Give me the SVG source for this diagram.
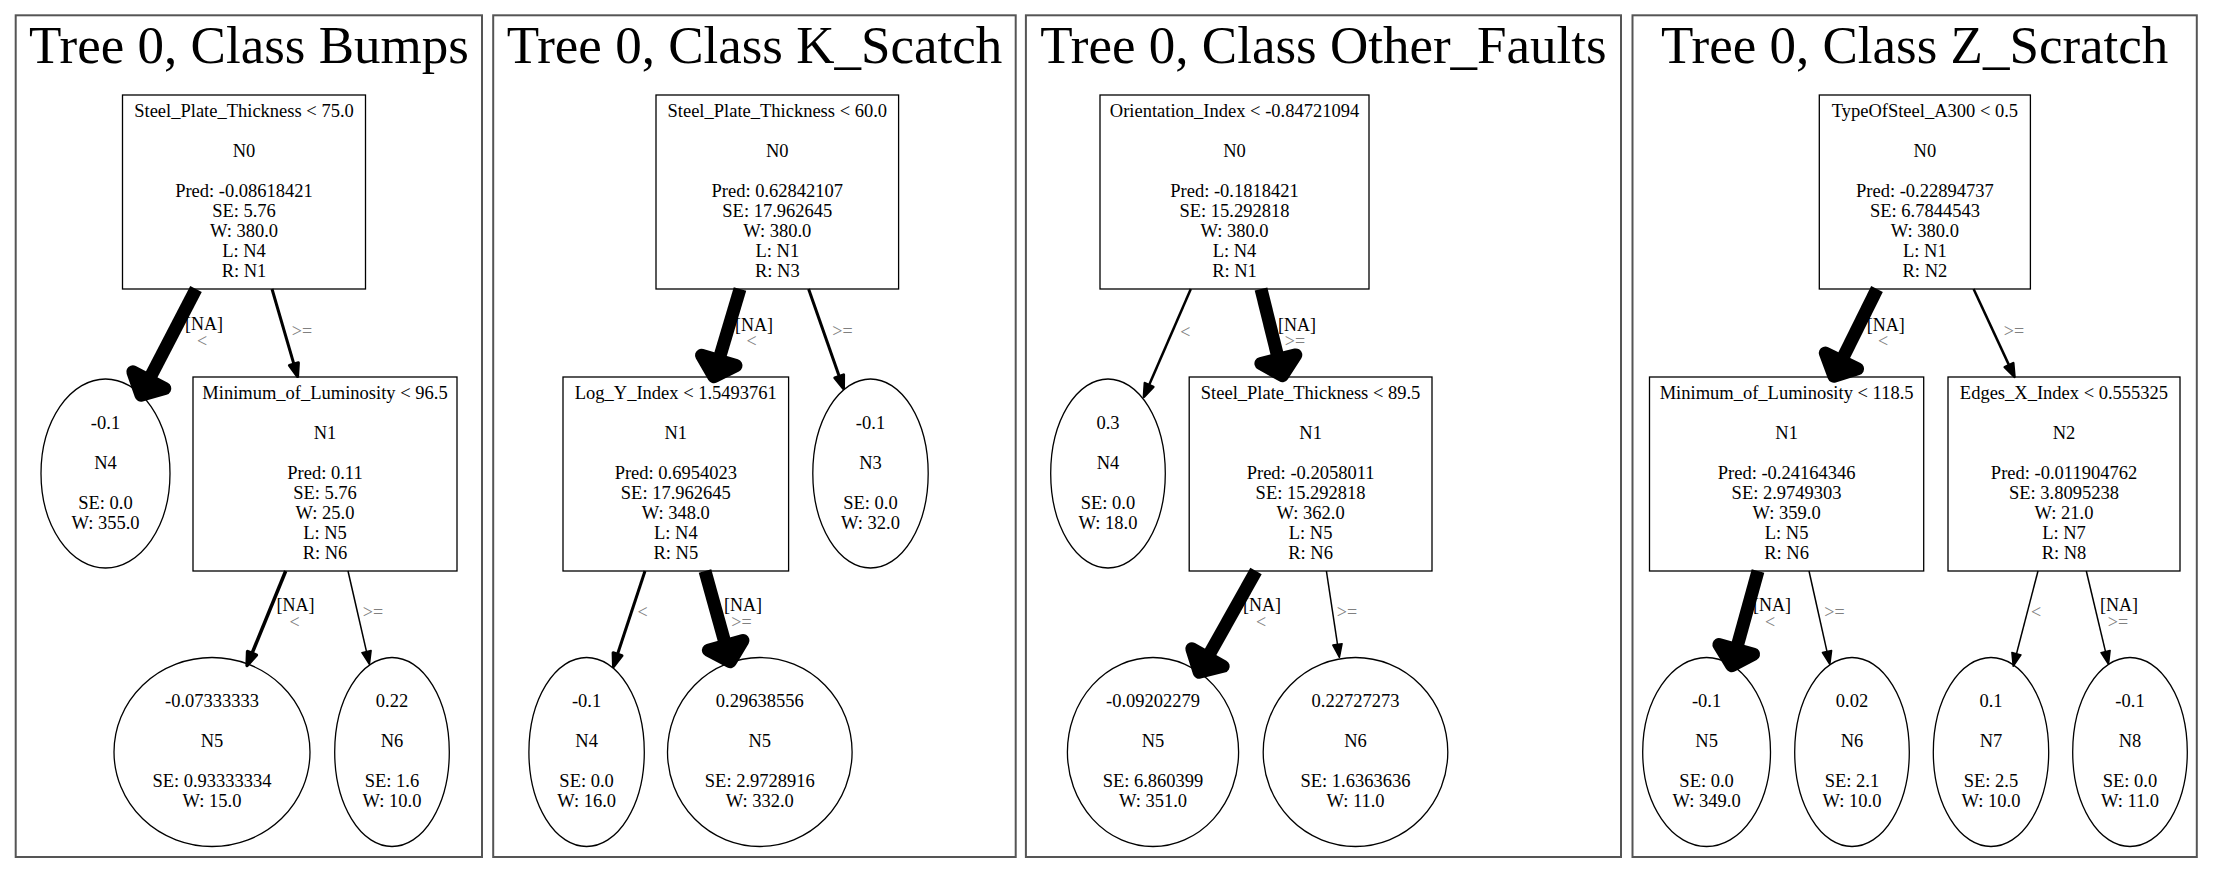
<svg xmlns="http://www.w3.org/2000/svg" width="2213" height="874" viewBox="0 0 2213 874">
<style>
.frame{fill:#fff;stroke:#555;stroke-width:2}
.title{font-family:"Liberation Serif","Times New Roman","DejaVu Serif",serif;font-size:53px;text-anchor:middle;fill:#000}
.nd{fill:#fff;stroke:#000;stroke-width:1.3}
.t{font-family:"Liberation Serif","Times New Roman","DejaVu Serif",serif;font-size:18.5px;text-anchor:middle;fill:#000}
.el{font-family:"Liberation Serif","Times New Roman","DejaVu Serif",serif;font-size:18px;text-anchor:middle;fill:#000}
.g{fill:#808080}
.e{stroke:#000;fill:none}
.h{fill:#000;stroke:#000;stroke-linejoin:round}
</style>
<rect width="2213" height="874" fill="#fff"/>

<!-- Panel 1: Bumps -->
<g id="panel-bumps">
<rect class="frame" x="15.7" y="15.3" width="466.3" height="841.7"/>
<text class="title" x="249" y="63">Tree 0, Class Bumps</text>
<g id="bumps-N0"><rect class="nd" x="122.5" y="95" width="243" height="194"/>
<text class="t" x="244" y="117">Steel_Plate_Thickness &lt; 75.0</text><text class="t" x="244" y="157">N0</text><text class="t" x="244" y="197">Pred: -0.08618421</text><text class="t" x="244" y="217">SE: 5.76</text><text class="t" x="244" y="237">W: 380.0</text><text class="t" x="244" y="257">L: N4</text><text class="t" x="244" y="277">R: N1</text></g>
<g id="bumps-N4"><ellipse class="nd" cx="105.5" cy="473.5" rx="64.5" ry="94.5"/>
<text class="t" x="105.5" y="428.5">-0.1</text><text class="t" x="105.5" y="468.5">N4</text><text class="t" x="105.5" y="508.5">SE: 0.0</text><text class="t" x="105.5" y="528.5">W: 355.0</text></g>
<g id="bumps-N1"><rect class="nd" x="193" y="377" width="264" height="194"/>
<text class="t" x="325" y="399">Minimum_of_Luminosity &lt; 96.5</text><text class="t" x="325" y="439">N1</text><text class="t" x="325" y="479">Pred: 0.11</text><text class="t" x="325" y="499">SE: 5.76</text><text class="t" x="325" y="519">W: 25.0</text><text class="t" x="325" y="539">L: N5</text><text class="t" x="325" y="559">R: N6</text></g>
<g id="bumps-N5"><ellipse class="nd" cx="212" cy="752" rx="98" ry="94.5"/>
<text class="t" x="212" y="707">-0.07333333</text><text class="t" x="212" y="747">N5</text><text class="t" x="212" y="787">SE: 0.93333334</text><text class="t" x="212" y="807">W: 15.0</text></g>
<g id="bumps-N6"><ellipse class="nd" cx="392" cy="752" rx="57.3" ry="94.5"/>
<text class="t" x="392" y="707">0.22</text><text class="t" x="392" y="747">N6</text><text class="t" x="392" y="787">SE: 1.6</text><text class="t" x="392" y="807">W: 10.0</text></g>
</g>

<!-- Panel 2: K_Scatch -->
<g id="panel-kscatch">
<rect class="frame" x="493.2" y="15.3" width="522.5" height="841.7"/>
<text class="title" x="754.5" y="63">Tree 0, Class K_Scatch</text>
<g id="kscatch-N0"><rect class="nd" x="656" y="95" width="242.6" height="194"/>
<text class="t" x="777.3" y="117">Steel_Plate_Thickness &lt; 60.0</text><text class="t" x="777.3" y="157">N0</text><text class="t" x="777.3" y="197">Pred: 0.62842107</text><text class="t" x="777.3" y="217">SE: 17.962645</text><text class="t" x="777.3" y="237">W: 380.0</text><text class="t" x="777.3" y="257">L: N1</text><text class="t" x="777.3" y="277">R: N3</text></g>
<g id="kscatch-N1"><rect class="nd" x="563" y="377" width="225.6" height="194"/>
<text class="t" x="675.8" y="399">Log_Y_Index &lt; 1.5493761</text><text class="t" x="675.8" y="439">N1</text><text class="t" x="675.8" y="479">Pred: 0.6954023</text><text class="t" x="675.8" y="499">SE: 17.962645</text><text class="t" x="675.8" y="519">W: 348.0</text><text class="t" x="675.8" y="539">L: N4</text><text class="t" x="675.8" y="559">R: N5</text></g>
<g id="kscatch-N3"><ellipse class="nd" cx="870.5" cy="473.5" rx="57.7" ry="94.5"/>
<text class="t" x="870.5" y="428.5">-0.1</text><text class="t" x="870.5" y="468.5">N3</text><text class="t" x="870.5" y="508.5">SE: 0.0</text><text class="t" x="870.5" y="528.5">W: 32.0</text></g>
<g id="kscatch-N4"><ellipse class="nd" cx="586.6" cy="752" rx="57.7" ry="94.5"/>
<text class="t" x="586.6" y="707">-0.1</text><text class="t" x="586.6" y="747">N4</text><text class="t" x="586.6" y="787">SE: 0.0</text><text class="t" x="586.6" y="807">W: 16.0</text></g>
<g id="kscatch-N5"><ellipse class="nd" cx="759.8" cy="752" rx="92.3" ry="94.5"/>
<text class="t" x="759.8" y="707">0.29638556</text><text class="t" x="759.8" y="747">N5</text><text class="t" x="759.8" y="787">SE: 2.9728916</text><text class="t" x="759.8" y="807">W: 332.0</text></g>
</g>

<!-- Panel 3: Other_Faults -->
<g id="panel-otherfaults">
<rect class="frame" x="1025.9" y="15.3" width="595.1" height="841.7"/>
<text class="title" x="1323.5" y="63">Tree 0, Class Other_Faults</text>
<g id="other-N0"><rect class="nd" x="1100" y="95" width="269" height="194"/>
<text class="t" x="1234.5" y="117">Orientation_Index &lt; -0.84721094</text><text class="t" x="1234.5" y="157">N0</text><text class="t" x="1234.5" y="197">Pred: -0.1818421</text><text class="t" x="1234.5" y="217">SE: 15.292818</text><text class="t" x="1234.5" y="237">W: 380.0</text><text class="t" x="1234.5" y="257">L: N4</text><text class="t" x="1234.5" y="277">R: N1</text></g>
<g id="other-N4"><ellipse class="nd" cx="1108" cy="473.5" rx="57.3" ry="94.5"/>
<text class="t" x="1108" y="428.5">0.3</text><text class="t" x="1108" y="468.5">N4</text><text class="t" x="1108" y="508.5">SE: 0.0</text><text class="t" x="1108" y="528.5">W: 18.0</text></g>
<g id="other-N1"><rect class="nd" x="1189.2" y="377" width="242.8" height="194"/>
<text class="t" x="1310.6" y="399">Steel_Plate_Thickness &lt; 89.5</text><text class="t" x="1310.6" y="439">N1</text><text class="t" x="1310.6" y="479">Pred: -0.2058011</text><text class="t" x="1310.6" y="499">SE: 15.292818</text><text class="t" x="1310.6" y="519">W: 362.0</text><text class="t" x="1310.6" y="539">L: N5</text><text class="t" x="1310.6" y="559">R: N6</text></g>
<g id="other-N5"><ellipse class="nd" cx="1153" cy="752" rx="85.6" ry="94.5"/>
<text class="t" x="1153" y="707">-0.09202279</text><text class="t" x="1153" y="747">N5</text><text class="t" x="1153" y="787">SE: 6.860399</text><text class="t" x="1153" y="807">W: 351.0</text></g>
<g id="other-N6"><ellipse class="nd" cx="1355.5" cy="752" rx="92.3" ry="94.5"/>
<text class="t" x="1355.5" y="707">0.22727273</text><text class="t" x="1355.5" y="747">N6</text><text class="t" x="1355.5" y="787">SE: 1.6363636</text><text class="t" x="1355.5" y="807">W: 11.0</text></g>
</g>

<!-- Panel 4: Z_Scratch -->
<g id="panel-zscratch">
<rect class="frame" x="1632.5" y="15.3" width="564.3" height="841.7"/>
<text class="title" x="1914.7" y="63">Tree 0, Class Z_Scratch</text>
<g id="z-N0"><rect class="nd" x="1819.3" y="95" width="211.1" height="194"/>
<text class="t" x="1924.9" y="117">TypeOfSteel_A300 &lt; 0.5</text><text class="t" x="1924.9" y="157">N0</text><text class="t" x="1924.9" y="197">Pred: -0.22894737</text><text class="t" x="1924.9" y="217">SE: 6.7844543</text><text class="t" x="1924.9" y="237">W: 380.0</text><text class="t" x="1924.9" y="257">L: N1</text><text class="t" x="1924.9" y="277">R: N2</text></g>
<g id="z-N1"><rect class="nd" x="1649.5" y="377" width="274.2" height="194"/>
<text class="t" x="1786.6" y="399">Minimum_of_Luminosity &lt; 118.5</text><text class="t" x="1786.6" y="439">N1</text><text class="t" x="1786.6" y="479">Pred: -0.24164346</text><text class="t" x="1786.6" y="499">SE: 2.9749303</text><text class="t" x="1786.6" y="519">W: 359.0</text><text class="t" x="1786.6" y="539">L: N5</text><text class="t" x="1786.6" y="559">R: N6</text></g>
<g id="z-N2"><rect class="nd" x="1948" y="377" width="232" height="194"/>
<text class="t" x="2064" y="399">Edges_X_Index &lt; 0.555325</text><text class="t" x="2064" y="439">N2</text><text class="t" x="2064" y="479">Pred: -0.011904762</text><text class="t" x="2064" y="499">SE: 3.8095238</text><text class="t" x="2064" y="519">W: 21.0</text><text class="t" x="2064" y="539">L: N7</text><text class="t" x="2064" y="559">R: N8</text></g>
<g id="z-N5"><ellipse class="nd" cx="1706.6" cy="752" rx="63.9" ry="94.5"/>
<text class="t" x="1706.6" y="707">-0.1</text><text class="t" x="1706.6" y="747">N5</text><text class="t" x="1706.6" y="787">SE: 0.0</text><text class="t" x="1706.6" y="807">W: 349.0</text></g>
<g id="z-N6"><ellipse class="nd" cx="1852" cy="752" rx="57.3" ry="94.5"/>
<text class="t" x="1852" y="707">0.02</text><text class="t" x="1852" y="747">N6</text><text class="t" x="1852" y="787">SE: 2.1</text><text class="t" x="1852" y="807">W: 10.0</text></g>
<g id="z-N7"><ellipse class="nd" cx="1991" cy="752" rx="57.7" ry="94.5"/>
<text class="t" x="1991" y="707">0.1</text><text class="t" x="1991" y="747">N7</text><text class="t" x="1991" y="787">SE: 2.5</text><text class="t" x="1991" y="807">W: 10.0</text></g>
<g id="z-N8"><ellipse class="nd" cx="2130" cy="752" rx="57.3" ry="94.5"/>
<text class="t" x="2130" y="707">-0.1</text><text class="t" x="2130" y="747">N8</text><text class="t" x="2130" y="787">SE: 0.0</text><text class="t" x="2130" y="807">W: 11.0</text></g>
</g>

<!-- Connectors -->
<g id="connectors">
<!-- Bumps -->
<line class="e" x1="196" y1="289" x2="148.8" y2="380.1" stroke-width="13"/>
<polygon class="h" stroke-width="13" points="141,395.2 132.8,371.8 164.8,388.4"/>
<line class="e" x1="272" y1="289" x2="293.9" y2="364.1" stroke-width="3"/>
<polygon class="h" stroke-width="3" points="297.6,376.6 289.4,365.4 298.4,362.8"/>
<line class="e" x1="285.7" y1="571" x2="252" y2="653.4" stroke-width="3.5"/>
<polygon class="h" stroke-width="3.5" points="247.1,665.4 247.6,651.6 256.3,655.1"/>
<line class="e" x1="348" y1="571" x2="366.5" y2="651.6" stroke-width="1.5"/>
<polygon class="h" stroke-width="1.5" points="369.4,664.3 361.9,652.7 371.1,650.6"/>
<!-- K_Scatch -->
<line class="e" x1="740" y1="289" x2="718.7" y2="360.5" stroke-width="13"/>
<polygon class="h" stroke-width="13" points="713.9,376.8 701.5,355.3 736,365.6"/>
<line class="e" x1="808.6" y1="289" x2="839.2" y2="376.3" stroke-width="3"/>
<polygon class="h" stroke-width="3" points="843.5,388.6 834.8,377.9 843.6,374.8"/>
<line class="e" x1="645" y1="571" x2="617.5" y2="654.2" stroke-width="3"/>
<polygon class="h" stroke-width="3" points="613.5,666.6 613.1,652.8 622,655.7"/>
<line class="e" x1="705" y1="571" x2="725.7" y2="645.4" stroke-width="13"/>
<polygon class="h" stroke-width="13" points="730.3,661.7 708.4,650.2 743,640.5"/>
<!-- Other_Faults -->
<line class="e" x1="1190.8" y1="289" x2="1149.1" y2="384.9" stroke-width="2.5"/>
<polygon class="h" stroke-width="2.5" points="1143.9,396.9 1144.8,383.1 1153.4,386.8"/>
<line class="e" x1="1261" y1="289" x2="1278.4" y2="359.2" stroke-width="13"/>
<polygon class="h" stroke-width="13" points="1282.4,375.7 1260.9,363.5 1295.8,354.9"/>
<line class="e" x1="1256" y1="571" x2="1207.5" y2="657.5" stroke-width="13"/>
<polygon class="h" stroke-width="13" points="1199.2,672.3 1191.8,648.7 1223.2,666.3"/>
<line class="e" x1="1326.4" y1="571" x2="1337.5" y2="644.4" stroke-width="1.5"/>
<polygon class="h" stroke-width="1.5" points="1339.4,657.3 1332.8,645.1 1342.1,643.7"/>
<!-- Z_Scratch -->
<line class="e" x1="1877" y1="289" x2="1841.4" y2="360.9" stroke-width="13"/>
<polygon class="h" stroke-width="13" points="1833.9,376.2 1825.3,353 1857.6,368.9"/>
<line class="e" x1="1973.6" y1="289" x2="2009" y2="365.1" stroke-width="2.5"/>
<polygon class="h" stroke-width="2.5" points="2014.5,376.9 2004.7,367.1 2013.3,363.1"/>
<line class="e" x1="1758" y1="571" x2="1736.3" y2="649.4" stroke-width="13"/>
<polygon class="h" stroke-width="13" points="1731.7,665.7 1718.9,644.6 1753.6,654.2"/>
<line class="e" x1="1809" y1="571" x2="1827" y2="651.6" stroke-width="1.5"/>
<polygon class="h" stroke-width="1.5" points="1829.8,664.3 1822.4,652.6 1831.6,650.6"/>
<line class="e" x1="2038" y1="571" x2="2016.5" y2="653.7" stroke-width="1.5"/>
<polygon class="h" stroke-width="1.5" points="2013.2,666.3 2011.9,652.5 2021,654.9"/>
<line class="e" x1="2086.3" y1="571" x2="2105.5" y2="651.6" stroke-width="1.5"/>
<polygon class="h" stroke-width="1.5" points="2108.5,664.3 2101,652.7 2110.1,650.5"/>

<!-- edge labels -->
<text class="el" x="204" y="330">[NA]</text><text class="el g" x="202" y="347">&lt;</text>
<text class="el g" x="302" y="337">&gt;=</text>
<text class="el" x="295.5" y="611">[NA]</text><text class="el g" x="294.5" y="628">&lt;</text>
<text class="el g" x="373" y="618">&gt;=</text>

<text class="el" x="754" y="331">[NA]</text><text class="el g" x="751.5" y="347">&lt;</text>
<text class="el g" x="842.5" y="337">&gt;=</text>
<text class="el g" x="642.5" y="618">&lt;</text>
<text class="el" x="743" y="611">[NA]</text><text class="el g" x="741.5" y="628">&gt;=</text>

<text class="el g" x="1185.4" y="338">&lt;</text>
<text class="el" x="1297" y="331">[NA]</text><text class="el g" x="1295" y="347">&gt;=</text>
<text class="el" x="1262" y="611">[NA]</text><text class="el g" x="1261" y="628">&lt;</text>
<text class="el g" x="1347" y="618">&gt;=</text>

<text class="el" x="1885.7" y="331">[NA]</text><text class="el g" x="1883" y="347">&lt;</text>
<text class="el g" x="2014" y="337">&gt;=</text>
<text class="el" x="1772" y="611">[NA]</text><text class="el g" x="1770" y="628">&lt;</text>
<text class="el g" x="1834.5" y="618">&gt;=</text>
<text class="el g" x="2036" y="618">&lt;</text>
<text class="el" x="2119" y="611">[NA]</text><text class="el g" x="2118" y="628">&gt;=</text>
</g>
</svg>
